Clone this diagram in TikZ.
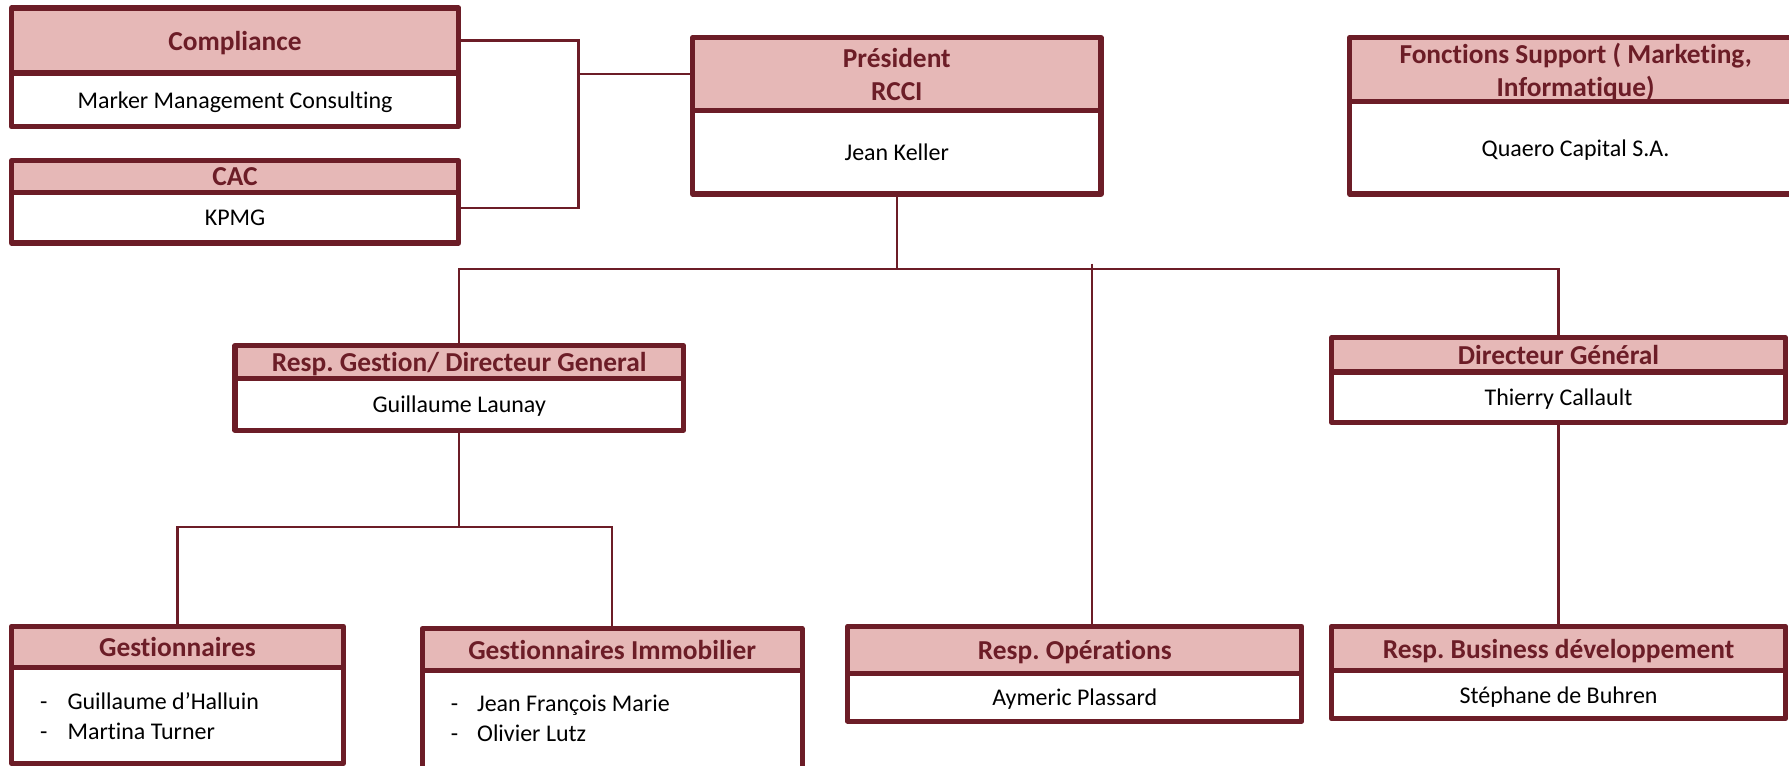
\documentclass[tikz,border=0pt]{standalone}
\usepackage{fontspec}
\setmainfont[Ligatures={NoCommon}]{Carlito}
\definecolor{bord}{RGB}{108,29,39}
\definecolor{hfill}{RGB}{230,184,183}
\newcommand\orgbox[8]{%
  \node[hdr, minimum width=#4pt, minimum height=#5pt] (#1h) at (#2,#3) {#7};
  \node[bdy, minimum width=#4pt, minimum height=#6pt] (#1b) at (#1h.south) {#8};}
\begin{document}
\frenchspacing
\begin{tikzpicture}[x=1pt,y=-1pt,
  hdr/.style={draw=bord, line width=4.5pt, line join=round, fill=hfill, text=bord,
    font=\fontsize{24}{29}\selectfont\bfseries, inner sep=0pt, outer sep=0pt, text depth=0pt,
    align=center, anchor=north west},
  bdy/.style={draw=bord, line width=4.5pt, line join=round, fill=white, text=black,
    font=\fontsize{21}{26}\selectfont, inner sep=0pt, outer sep=0pt, text depth=0pt,
    align=center, anchor=north},
  itm/.style={font=\fontsize{21}{26}\selectfont, inner sep=0pt, anchor=base west},
  conn/.style={draw=bord, line width=2pt}]
\clip (0,0) rectangle (1568,670.5);
\fill[white] (0,0) rectangle (1568,670.5);
\coordinate (bus) at (0,236);
\coordinate (sub) at (0,462);
\coordinate (cj) at (507,65);
\orgbox{comp}{10}{7}{392}{57}{47}{Compliance}{Marker Management Consulting}
\orgbox{cac}{10}{141}{392}{28}{44}{CAC}{KPMG}
\orgbox{pres}{607}{33}{358}{64}{73}{Président\\RCCI}{Jean Keller}
\orgbox{fon}{1183}{33}{396}{56}{81}{Fonctions Support ( Marketing,\\Informatique)}{Quaero Capital S.A.}
\orgbox{rg}{206}{303}{393}{29}{45}{Resp. Gestion/ Directeur General}{Guillaume Launay}
\orgbox{dg}{1167}{296}{398}{30}{44}{Directeur Général}{Thierry Callault}
\orgbox{ge}{10}{549}{291}{36}{84}{Gestionnaires}{}
\orgbox{gi}{370}{551}{333}{37}{95}{Gestionnaires Immobilier}{}
\orgbox{op}{743}{549}{398}{41}{42}{Resp. Opérations}{Aymeric Plassard}
\orgbox{bd}{1167}{549}{398}{39}{42}{Resp. Business développement}{Stéphane de Buhren}
% list items
\node[itm] (d1) at (35,622) {-};
\node[itm] (n1) at (59,622) {Guillaume d’Halluin};
\node[itm] (d2) at (35,648) {-};
\node[itm] (n2) at (59,648) {Martina Turner};
\node[itm] (d3) at (395,624) {-};
\node[itm] (n3) at (418,624) {Jean François Marie};
\node[itm] (d4) at (395,650) {-};
\node[itm] (n4) at (418,650) {Olivier Lutz};
% lines
\coordinate (cacp) at ([yshift=9pt]cacb.east);
\draw[conn] (comph.east) -- (cj |- comph.east) -- (cj |- cacp) -- (cacp);
\draw[conn] (cj) -- (cj -| presh.west);
\draw[conn] (presb.south) -- (presb.south |- bus);
\draw[conn] (rgh.north) -- (rgh.north |- bus) -- (dgh.north |- bus) -- (dgh.north);
\coordinate (opt) at ([xshift=15pt]oph.north);
\draw[conn] (opt |- 0,231) -- (opt);
\draw[conn] (rgb.south) -- (rgb.south |- sub);
\draw[conn] (geh.north) -- (geh.north |- sub) -- (gih.north |- sub) -- (gih.north);
\draw[conn] (dgb.south) -- (bdh.north);
\end{tikzpicture}
\end{document}
